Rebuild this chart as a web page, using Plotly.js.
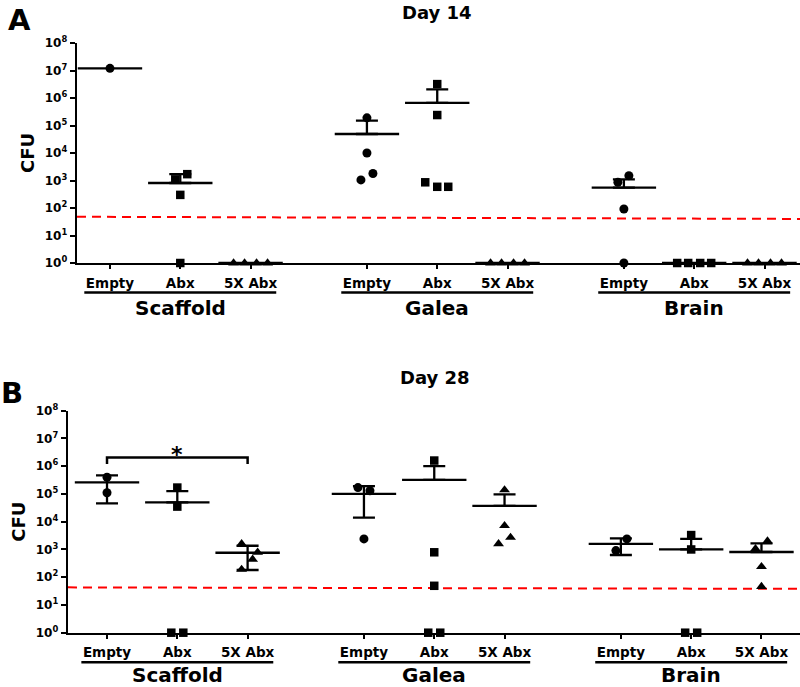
<!DOCTYPE html>
<html><head><meta charset="utf-8">
<script src="https://cdn.plot.ly/plotly-3.0.1.min.js"></script>
<style>html,body{margin:0;padding:0;background:#fff}#chart{width:800px;height:687px}</style>
</head><body><div id="chart"></div>
<script>
// ---------- data ----------
const categories = ['Empty', 'Abx', '5X Abx'];
const tissues = ['Scaffold', 'Galea', 'Brain'];
const panelTitles = ['Day 14', 'Day 28'];
const panelLetters = ['A', 'B'];
const yTickValues = [1, 10, 100, 1e3, 1e4, 1e5, 1e6, 1e7, 1e8];
const yTickLabels = ['10<sup>0</sup>', '10<sup>1</sup>', '10<sup>2</sup>', '10<sup>3</sup>', '10<sup>4</sup>',
                     '10<sup>5</sup>', '10<sup>6</sup>', '10<sup>7</sup>', '10<sup>8</sup>'];
const yAxisLabel = 'CFU';

// Day 14 CFU per animal: [Empty, Abx, 5X Abx]
const day14Scaffold = [[1.2e7], [1100, 1700, 300, 1], [1, 1, 1, 1]];
const day14Galea    = [[1.9e5, 1.0e4, 1050, 1800], [3.2e6, 2.4e5, 860, 590, 590], [1, 1, 1, 1]];
const day14Brain    = [[860, 1500, 92, 1], [1, 1, 1, 1], [1, 1, 1, 1]];
// Day 14 group mean and error-bar ends (null = not drawn)
const day14Mean  = [[1.2e7, 810, 1], [4.9e4, 6.7e5, 1], [550, 1, 1]];
const day14Upper = [[null, 1700, null], [1.5e5, 2.06e6, null], [1100, null, null]];
const day14Lower = [[null, null, null], [null, null, null], [null, null, null]];
const day14Detection = [48, 40];

// Day 28 CFU per animal
const day28Scaffold = [[4.0e5, 1.1e5], [1.7e5, 3.5e4, 1, 1], [1600, 790, 440, 190]];
const day28Galea    = [[1.7e5, 1.3e5, 2400], [1.6e6, 790, 49, 1, 1], [1.4e5, 7200, 2700, 1600]];
const day28Brain    = [[910, 2400], [3300, 1000, 1, 1], [2000, 1050, 240, 46]];
const day28Mean  = [[2.6e5, 5.0e4, 760], [1.0e5, 3.2e5, 3.7e4], [1580, 1000, 810]];
const day28Upper = [[4.7e5, 1.27e5, 1360], [1.9e5, 1.0e6, 9.7e4], [2500, 2400, 1660]];
const day28Lower = [[4.6e4, null, 182], [1.4e4, null, null], [630, null, null]];
const day28Detection = [43, 38];
// significance bracket (Scaffold: Empty vs 5X Abx)
const sigBracketY = [1.2e6, 2.05e6];
const sigLabel = '*';

// ---------- layout helpers (positions only) ----------
const PX = 70.3;          // px per category unit
const GROUP = 3.655;      // group spacing in units
const pos = (t, c) => t * GROUP + c;
// horizontal scatter of overlapping points (px)
const jitter14 = [
  [[0], [-5, 7, 0, 0], [-17, -6, 6, 17]],
  [[0, 0, -6, 6], [0, 0, -12, 0, 11], [-17, -6, 6, 17]],
  [[-6, 5, 0, 0], [-17, -6, 6, 17], [-17, -6, 6, 17]]
];
const jitter28 = [
  [[0, 0], [0, 0, -6, 6], [-6, 10, 5, -6]],
  [[-6, 6, 0], [0, 0, 0, -6, 6], [0, 0, 6, -6]],
  [[-5, 6], [0, 0, -6, 6], [6, -6, 0, 0]]
];
const symbols = ['circle', 'square', 'triangle-up'];
const symSize = [9, 8.5, 9.5];

const panels = [
  {data: [day14Scaffold, day14Galea, day14Brain], mean: day14Mean, up: day14Upper, lo: day14Lower,
   lod: day14Detection, jit: jitter14, xa: 'x', ya: 'y',
   xr: [-0.469, 9.815], xdom: [77 / 800, 1], axisPx: 263, topPx: 43, labelGap: 44.5},
  {data: [day28Scaffold, day28Galea, day28Brain], mean: day28Mean, up: day28Upper, lo: day28Lower,
   lod: day28Detection, jit: jitter28, xa: 'x2', ya: 'y2',
   xr: [-0.555, 9.858], xdom: [68 / 800, 1], axisPx: 632.7, topPx: 410.7, labelGap: 42}
];

const H = 687;
const py = px => 1 - px / H;
const FONT = 'DejaVu Sans, Liberation Sans, Arial, sans-serif';
const traces = [];
const annotations = [];
const shapes = [];
const layout = {
  width: 800, height: 687, margin: {l: 0, r: 0, t: 0, b: 0},
  paper_bgcolor: '#fff', plot_bgcolor: 'rgba(0,0,0,0)', showlegend: false,
  font: {family: FONT, color: '#000'}
};

panels.forEach((p, pi) => {
  // detection limit
  traces.push({type: 'scatter', mode: 'lines', x: p.xr, y: p.lod, xaxis: p.xa, yaxis: p.ya,
    line: {color: '#ff0000', width: 2, dash: '9px,6px'}, hoverinfo: 'skip', cliponaxis: false});
  p.data.forEach((tissue, t) => {
    tissue.forEach((vals, c) => {
      const m = p.mean[t][c], u = p.up[t][c], l = p.lo[t][c];
      traces.push({type: 'scatter', mode: 'markers', xaxis: p.xa, yaxis: p.ya, cliponaxis: false,
        x: [pos(t, c)], y: [m],
        marker: {symbol: 'line-ew', size: 46, color: '#000', line: {color: '#000', width: 2.3}},
        error_y: {type: 'data', symmetric: false, array: [u === null ? 0 : u - m],
          arrayminus: [l === null ? 0 : m - l], width: 11, thickness: 2.3, color: '#000',
          visible: (u !== null || l !== null)}});
      traces.push({type: 'scatter', mode: 'markers', xaxis: p.xa, yaxis: p.ya, cliponaxis: false,
        x: vals.map((v, i) => pos(t, c) + p.jit[t][c][i] / PX), y: vals,
        marker: {symbol: symbols[c], size: symSize[c], color: '#000'}});
    });
  });
  const tickv = [], tickt = [];
  tissues.forEach((_, t) => categories.forEach((c, ci) => { tickv.push(pos(t, ci)); tickt.push('<b>' + c + '</b>'); }));
  const yDom = [py(p.axisPx), py(p.topPx)];
  const xk = pi === 0 ? 'xaxis' : 'xaxis2', yk = pi === 0 ? 'yaxis' : 'yaxis2';
  layout[xk] = {domain: p.xdom, range: p.xr, anchor: p.ya, showline: true, linewidth: 2.3, linecolor: '#000',
    ticks: 'outside', ticklen: 4, tickwidth: 2, tickcolor: '#000', tickvals: tickv, ticktext: tickt,
    tickfont: {family: FONT, size: 13.5, color: '#000'}, ticklabelstandoff: 2, layer: 'below traces',
    showgrid: false, zeroline: false, automargin: false, fixedrange: true};
  layout[yk] = {domain: yDom, type: 'log', range: [0, 8], anchor: p.xa, showline: true, linewidth: 2.3,
    linecolor: '#000', ticks: 'outside', ticklen: 5, tickwidth: 2, tickcolor: '#000', layer: 'below traces',
    tickvals: yTickValues, ticktext: yTickLabels.map(s => '<b>' + s + '</b>'),
    tickfont: {family: FONT, size: 12, color: '#000'},
    title: {text: '<b>' + yAxisLabel + '</b>', font: {family: FONT, size: 18, color: '#000'}, standoff: 6},
    showgrid: false, zeroline: false, automargin: false, fixedrange: true};
  // group underline + labels
  tissues.forEach((name, t) => {
    const mid = pos(t, 1);
    shapes.push({type: 'line', xref: p.xa, yref: 'paper', x0: mid - 1.365, x1: mid + 1.365,
      y0: py(p.axisPx + 29.5), y1: py(p.axisPx + 29.5), line: {color: '#000', width: 2.5}});
    annotations.push({xref: p.xa, yref: 'paper', x: mid, y: py(p.axisPx + p.labelGap), text: '<b>' + name + '</b>',
      showarrow: false, xanchor: 'center', yanchor: 'middle', font: {family: FONT, size: 20, color: '#000'}});
  });
  // panel title and letter
  annotations.push({xref: 'paper', yref: 'paper', x: (pi === 0 ? 437 : 435) / 800,
    y: py(pi === 0 ? 12 : 377), text: '<b>' + panelTitles[pi] + '</b>', showarrow: false,
    xanchor: 'center', yanchor: 'middle', font: {family: FONT, size: 18, color: '#000'}});
  annotations.push({xref: 'paper', yref: 'paper', x: (pi === 0 ? 19 : 12) / 800,
    y: py(pi === 0 ? 20 : 393), text: '<b>' + panelLetters[pi] + '</b>', showarrow: false,
    xanchor: 'center', yanchor: 'middle', font: {family: FONT, size: 29, color: '#000'}});
});

// significance bracket
traces.push({type: 'scatter', mode: 'lines', xaxis: 'x2', yaxis: 'y2', cliponaxis: false,
  x: [pos(0, 0), pos(0, 0), pos(0, 2), pos(0, 2)],
  y: [sigBracketY[0], sigBracketY[1], sigBracketY[1], sigBracketY[0]],
  line: {color: '#000', width: 2.5}, hoverinfo: 'skip'});
annotations.push({xref: 'x2', yref: 'paper', x: pos(0, 1), y: py(455), text: '<b>' + sigLabel + '</b>',
  showarrow: false, xanchor: 'center', yanchor: 'middle', font: {family: FONT, size: 22, color: '#000'}});

layout.annotations = annotations;
layout.shapes = shapes;
Plotly.newPlot('chart', traces, layout, {staticPlot: true, displayModeBar: false});
</script></body></html>
